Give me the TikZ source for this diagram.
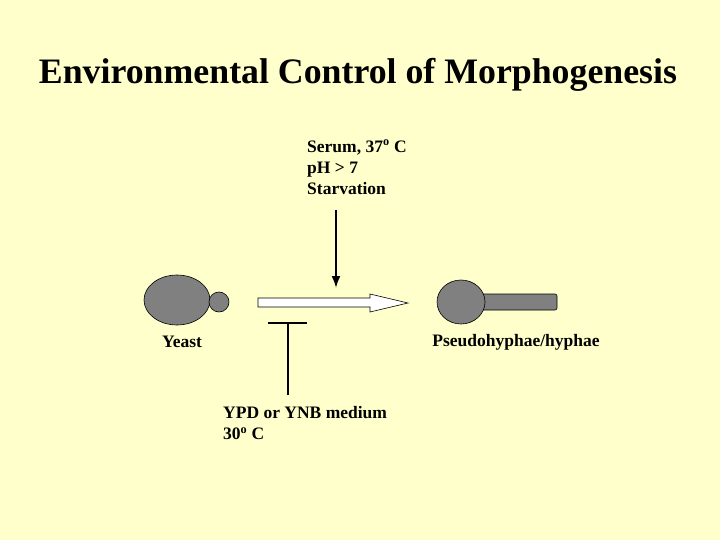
\documentclass[tikz,border=0pt]{standalone}
\usepackage{fontspec}
\setmainfont{Liberation Serif}
\usetikzlibrary{arrows.meta,positioning,shapes.geometric}
\definecolor{bgyellow}{HTML}{FFFFCC}
\definecolor{cellgray}{HTML}{808080}
\tikzset{cell/.style={fill=cellgray,draw=black,line width=0.6pt},
  lbl/.style={font=\bfseries\fontsize{17.5}{21}\selectfont,align=left}}
\begin{document}
\begin{tikzpicture}[x=1pt,y=-1pt,>=Latex]
  \fill[bgyellow] (0,0) rectangle (720,540);
  \useasboundingbox (0,0) rectangle (720,540);
  \node[font=\bfseries\fontsize{35.8}{40}\selectfont] (title) at (358,75) {Environmental Control of Morphogenesis};
  % yeast
  \node[cell,ellipse,minimum width=66,minimum height=50,inner sep=0] (mother) at (177,300) {};
  \node[cell,circle,minimum size=20,inner sep=0] (bud) at (219,302) {};
  \node[lbl] (yeast) at (182,342) {Yeast};
  % hypha
  \draw[cell,rounded corners=2] (470,294) rectangle (557,310);
  \node[cell,ellipse,minimum width=48,minimum height=44,inner sep=0] (hcell) at (461,302) {};
  \node[lbl] (hypha) at (516,342) {Pseudohyphae/hyphae};
  % main arrow
  \draw[fill=white,line width=0.6pt] (258,298) -- (370,298) -- (370,294) -- (408,303)
    -- (370,312) -- (370,307) -- (258,307) -- cycle;
  % inducers
  \node[lbl,anchor=north west,inner sep=0] (induce) at (307,140) {Serum, 37\textsuperscript{o} C\\pH > 7\\Starvation};
  \coordinate (downtip) at (336,288);
  \draw[->,line width=2pt] (336,210) -- (downtip);
  % repressors
  \node[lbl,anchor=north west,inner sep=0] (repress) at (223,406) {YPD or YNB medium\\30\textsuperscript{o} C};
  \coordinate (bar) at (288,323);
  \draw[line width=2pt] (288,395) -- (bar);
  \draw[line width=2pt] (268,323) -- (307,323);
\end{tikzpicture}
\end{document}
